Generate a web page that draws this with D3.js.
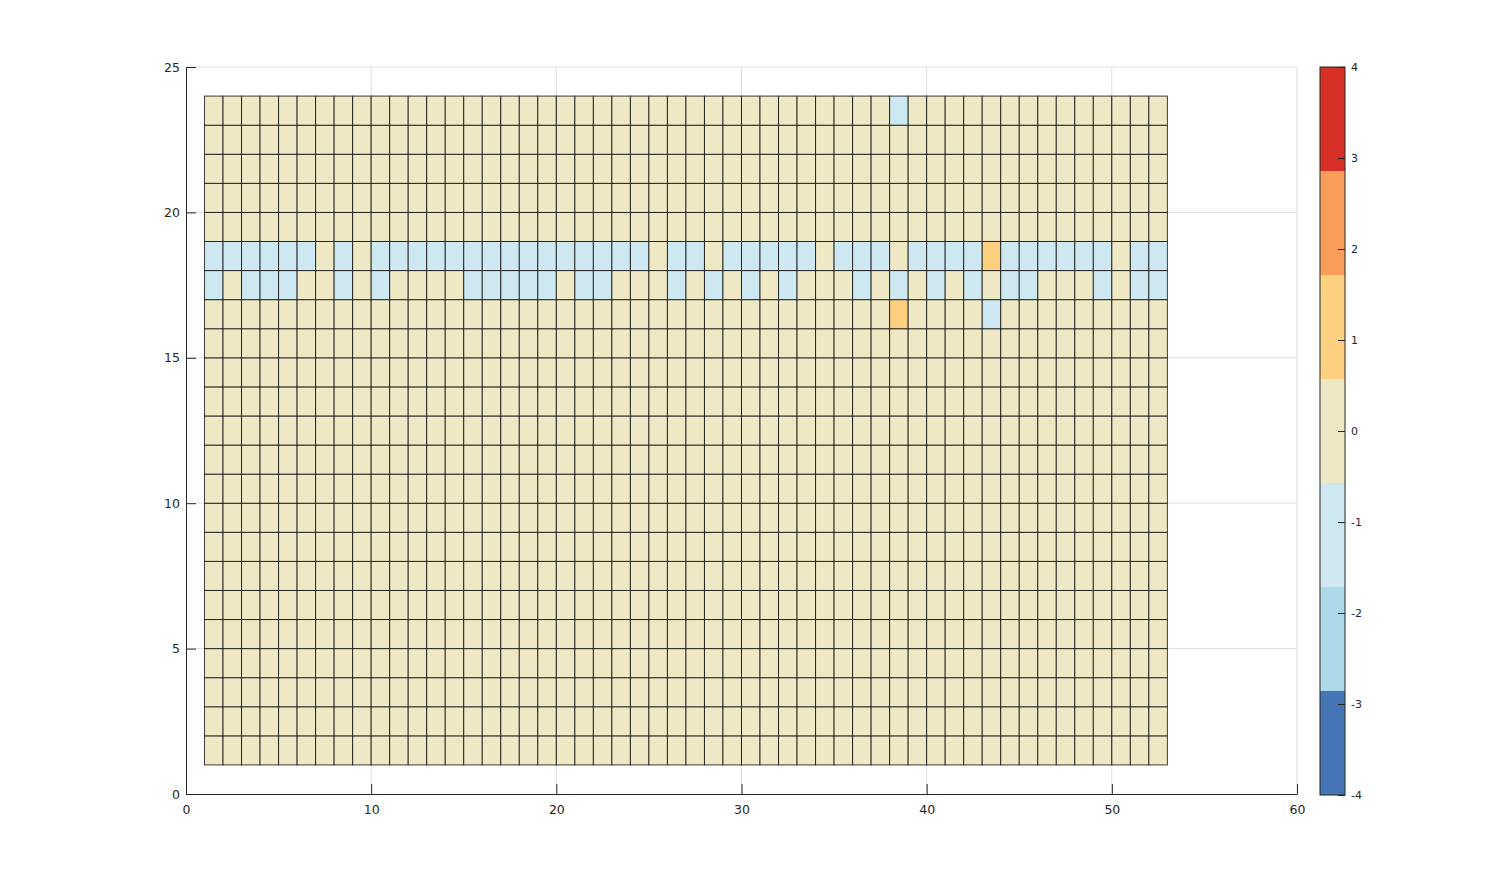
<!DOCTYPE html>
<html>
<head>
<meta charset="utf-8">
<script src="https://cdn.jsdelivr.net/npm/d3@7"></script>
<style>
  body { margin: 0; background: #fff; }
  text { font-family: "DejaVu Sans", sans-serif; fill: #262626; }
</style>
</head>
<body>
<svg id="chart" width="1509" height="893"></svg>
<script>
// grid extents (cell lower-left corners)
const xCells = d3.range(1, 53)   // 52 columns, x = 1..52
const yCells = d3.range(1, 24)   // 23 rows,    y = 1..23

// rows that are not all zero
const row16 = [0,0,0,0,0,0,0,0,0,0,0,0,0,0,0,0,0,0,0,0,0,0,0,0,0,0,0,0,0,0,0,0,0,0,0,0,0,1,0,0,0,0,-1,0,0,0,0,0,0,0,0,0]
const row17 = [-1,0,-1,-1,-1,0,0,-1,0,-1,0,0,0,0,-1,-1,-1,-1,-1,0,-1,-1,0,0,0,-1,0,-1,0,-1,0,-1,0,0,0,-1,0,-1,0,-1,0,-1,0,-1,-1,0,0,0,-1,0,-1,-1]
const row18 = [-1,-1,-1,-1,-1,-1,0,-1,0,-1,-1,-1,-1,-1,-1,-1,-1,-1,-1,-1,-1,-1,-1,-1,0,-1,-1,0,-1,-1,-1,-1,-1,0,-1,-1,-1,0,-1,-1,-1,-1,1,-1,-1,-1,-1,-1,-1,0,-1,-1]
const row23 = [0,0,0,0,0,0,0,0,0,0,0,0,0,0,0,0,0,0,0,0,0,0,0,0,0,0,0,0,0,0,0,0,0,0,0,0,0,-1,0,0,0,0,0,0,0,0,0,0,0,0,0,0]

const xTicks = [0, 10, 20, 30, 40, 50, 60]
const yTicks = [0, 5, 10, 15, 20, 25]
const cTicks = [-4, -3, -2, -1, 0, 1, 2, 3, 4]
const palette = ["#4575b4", "#abd9e9", "#cde8f0", "#eee8c4", "#fdd081", "#f99d59", "#d73027"]

const specialRows = { 16: row16, 17: row17, 18: row18, 23: row23 }

let cells = []
for (const y of yCells) {
    for (const [i, x] of xCells.entries()) {
        let v = specialRows[y] ? specialRows[y][i] : 0
        cells.push({ x: x, y: y, v: v })
    }
}

const svg = d3.select("#chart")

let xScale = d3.scaleLinear().domain([0, 60]).range([186, 1297])
let yScale = d3.scaleLinear().domain([0, 25]).range([794, 67])
let color = d3.scaleQuantize().domain([-4, 4]).range(palette)
let plain = d => String(d)   // hyphen minus like the original

// grid lines
svg.append("g").selectAll("line.gx")
    .data(xTicks.slice(1))
    .join("line")
    .attr("x1", d => xScale(d)).attr("x2", d => xScale(d))
    .attr("y1", yScale(0)).attr("y2", yScale(25))
    .attr("stroke", "#dfdfdf").attr("stroke-width", 1)
svg.append("g").selectAll("line.gy")
    .data(yTicks.slice(1))
    .join("line")
    .attr("x1", xScale(0)).attr("x2", xScale(60))
    .attr("y1", d => yScale(d)).attr("y2", d => yScale(d))
    .attr("stroke", "#dfdfdf").attr("stroke-width", 1)

// cells
svg.append("g").selectAll("rect")
    .data(cells)
    .join("rect")
    .attr("x", d => xScale(d.x))
    .attr("y", d => yScale(d.y + 1))
    .attr("width", d => xScale(d.x + 1) - xScale(d.x))
    .attr("height", d => yScale(d.y) - yScale(d.y + 1))
    .attr("fill", d => color(d.v))
    .attr("stroke", "#000")
    .attr("stroke-opacity", 0.75)
    .attr("stroke-width", 1)

// axes
let xAxis = d3.axisBottom(xScale).tickValues(xTicks).tickFormat(plain).tickSizeInner(-10).tickSizeOuter(0).tickPadding(11)
let yAxis = d3.axisLeft(yScale).tickValues(yTicks).tickFormat(plain).tickSizeInner(-10).tickSizeOuter(0).tickPadding(6)

let gx = svg.append("g").attr("transform", "translate(0," + yScale(0) + ")").call(xAxis)
let gy = svg.append("g").attr("transform", "translate(" + xScale(0) + ",0)").call(yAxis)
for (const g of [gx, gy]) {
    g.select(".domain").attr("stroke", "#262626")
    g.selectAll(".tick line").attr("stroke", "#262626")
    g.selectAll("text").style("font-size", "12.5px").attr("fill", "#262626")
}

// colorbar
let cbX = 1320, cbW = 25
let cScale = d3.scaleLinear().domain([-4, 4]).range([795, 67])
let bands = color.range().map(c => color.invertExtent(c))
svg.append("g").selectAll("rect")
    .data(bands)
    .join("rect")
    .attr("x", cbX)
    .attr("y", d => cScale(d[1]))
    .attr("width", cbW)
    .attr("height", d => cScale(d[0]) - cScale(d[1]))
    .attr("fill", d => color((d[0] + d[1]) / 2))
svg.append("rect")
    .attr("x", cbX).attr("y", cScale(4))
    .attr("width", cbW).attr("height", cScale(-4) - cScale(4))
    .attr("fill", "none").attr("stroke", "#262626").attr("stroke-width", 1)

let cAxis = d3.axisRight(cScale).tickValues(cTicks).tickFormat(plain).tickSizeInner(-7).tickSizeOuter(0).tickPadding(6)
let gc = svg.append("g").attr("transform", "translate(" + (cbX + cbW) + ",0)").call(cAxis)
gc.select(".domain").remove()
gc.selectAll(".tick line").attr("stroke", "#262626")
gc.selectAll("text").style("font-size", "11px").attr("fill", "#262626")
</script>
</body>
</html>
